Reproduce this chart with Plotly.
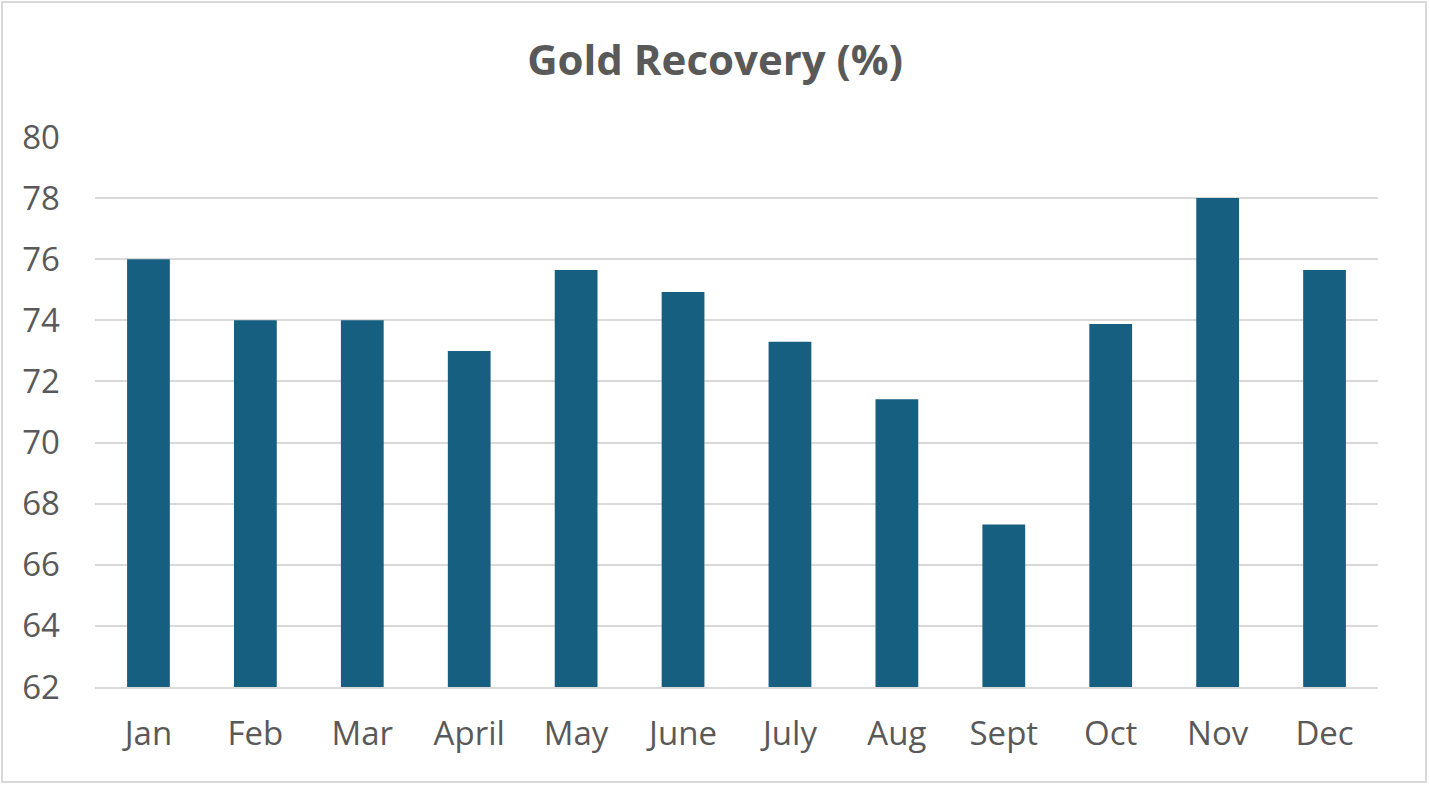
import plotly.graph_objects as go

months = ["Jan", "Feb", "Mar", "April", "May", "June", "July", "Aug", "Sept", "Oct", "Nov", "Dec"]
recovery = [76.0, 74.0, 74.0, 73.0, 75.65, 74.93, 73.3, 71.42, 67.32, 73.88, 78.0, 75.65]
y_ticks = [62, 64, 66, 68, 70, 72, 74, 76, 78, 80]

W, H = 1430, 788
ml, mr, mt, mb = 95, 52, 137, 101
pw, ph = W - ml - mr, H - mt - mb

fig = go.Figure(go.Bar(x=months, y=recovery, marker=dict(color="#175F81", line=dict(width=0))))

fig.update_layout(
    width=W, height=H,
    margin=dict(l=ml, r=mr, t=mt, b=mb),
    paper_bgcolor="white", plot_bgcolor="white",
    bargap=0.6,
    font=dict(family="Open Sans, Liberation Sans, sans-serif", color="#595959"),
    title=dict(text="<b>Gold Recovery (%)</b>", x=0.5, xanchor="center", y=1 - 60 / H, yanchor="middle",
               font=dict(size=42, color="#595959")),
    showlegend=False,
)
fig.update_yaxes(range=[62, 80], tickvals=y_ticks, showgrid=True, gridcolor="#D9D9D9", gridwidth=2,
                 zeroline=False, showline=False, ticks="", tickfont=dict(size=33, color="#595959"),
                 ticklabelstandoff=34)
fig.update_xaxes(showgrid=False, showline=True, linecolor="#D9D9D9", linewidth=2, ticks="",
                 tickfont=dict(size=33, color="#595959"), ticklabelstandoff=16)
fig.add_shape(type="rect", xref="paper", yref="paper",
              x0=(2 - ml) / pw, x1=(W - 4 - ml) / pw, y0=-(H - 6 - mt - ph) / ph, y1=1 + (mt - 2) / ph,
              line=dict(color="#D9D9D9", width=2), fillcolor="rgba(0,0,0,0)", layer="below")

fig.write_html("out.html", config={"displayModeBar": False},
               post_script="document.body.style.margin='0';document.body.style.overflow='hidden';")
